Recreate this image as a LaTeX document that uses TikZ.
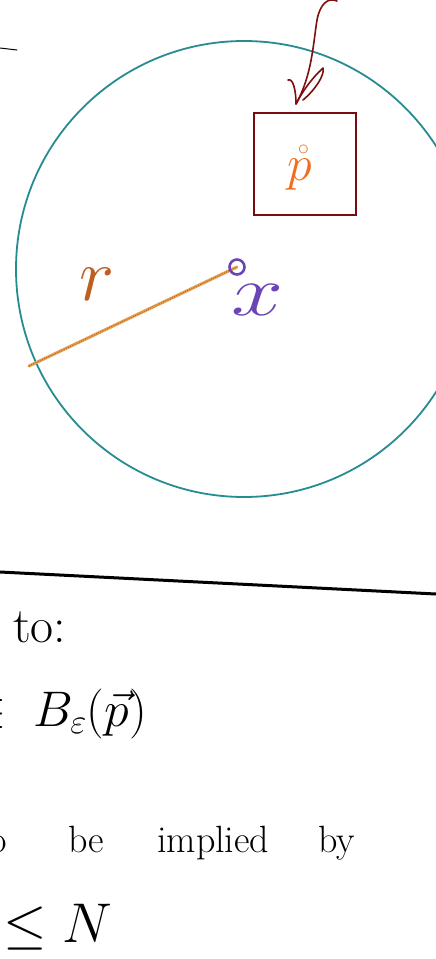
\documentclass[tikz,border=0pt]{standalone}
\usepackage{fix-cm}
\usepackage{amsmath,amssymb}
\usetikzlibrary{positioning,calc}
\definecolor{balltl}{RGB}{38,140,145}
\definecolor{boxred}{RGB}{120,12,16}
\definecolor{arrred}{RGB}{125,15,15}
\definecolor{radorg}{RGB}{228,160,80}
\definecolor{rorg}{RGB}{190,95,30}
\definecolor{porg}{RGB}{240,110,30}
\definecolor{xpur}{RGB}{105,70,180}
\tikzset{
  hand/.style={font=\fontsize{38}{40}\selectfont, inner sep=0pt, anchor=base west},
  bighand/.style={font=\fontsize{50}{52}\selectfont, inner sep=0pt, anchor=base west},
  lbl/.style={inner sep=0pt},
  ink/.style={line width=1pt, line cap=round, line join=round},
}
\begin{document}
\begin{tikzpicture}[x=1pt, y=-1pt]
    \clip (0,0) rectangle (436,959);
    \fill[white] (0,0) rectangle (436,959);
    % ball around x
    \coordinate (ctr) at (244,269);
    \coordinate (xpt) at (237,267);
    \coordinate (rim) at (29,366);
    \draw[ink] (0,48) -- (17,50);
    \draw[balltl, line width=1.8pt] (ctr) circle (228pt);
    \node[draw=boxred, line width=1.6pt, minimum size=102pt, inner sep=0pt] (pbox) at (305,164) {};
    \node[lbl, porg, font=\fontsize{50}{52}\selectfont] (pdot) at (300,168) {$\mathring{p}$};
    % arrow into the box
    \draw[arrred, ink, line width=1.6pt] (337,1) .. controls (328,-3) and (320,4) .. (317,20)
      .. controls (313,45) and (312,75) .. (296,104);
    \draw[arrred, ink, line width=1.6pt] (288,80) .. controls (293,78) and (296,90) .. (296,104)
      .. controls (302,92) and (312,78) .. (323,68) .. controls (325,75) and (315,90) .. (303,100);
    % radius
    \draw[radorg, line width=3pt, line cap=round] (rim) -- (xpt);
    \draw[rorg, line width=1.2pt, dash pattern=on 0.8pt off 1.6pt] (rim) -- (xpt);
    \node[lbl, rorg, font=\fontsize{75}{77}\selectfont] (rlab) at (97,284) {$r$};
    \draw[xpur, line width=2.6pt] (xpt) circle (7.5pt);
    \node[lbl, xpur, font=\fontsize{72}{74}\selectfont, xscale=1.3] (xlab) at (258,300) {$x$};
    % notes below the rule
    \coordinate (ruleL) at (0,572);
    \coordinate (ruleR) at (436,594);
    \draw[line width=3pt] (ruleL) -- (ruleR);
    \node[bighand] (to) at (13,642) {to:};
    \node[bighand] (inl) at (-27,726) {$\in$};
    \node[bighand] (ball) at (33,726) {$B_\varepsilon(\vec{p})$};
    \node[hand] (oo) at (-11,852) {o};
    \node[hand] (be) at (68,852) {be};
    \node[hand] (impl) at (157,852) {implied};
    \node[hand] (by) at (318,852) {by};
    \node[bighand, font=\fontsize{56}{58}\selectfont] (leN) at (3,942) {$\leq N$};
\end{tikzpicture}
\end{document}
